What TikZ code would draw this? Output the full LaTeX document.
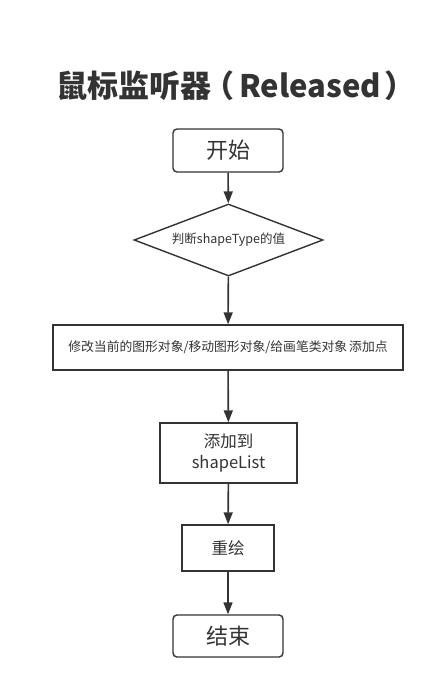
\documentclass[tikz,border=0pt]{standalone}
\usepackage{fontspec}
\setmainfont{Noto Sans CJK SC}
\usetikzlibrary{shapes.geometric,arrows.meta}
\definecolor{ink}{HTML}{333333}
\tikzset{
  box/.style={draw=ink, line width=1.4pt, rectangle, inner sep=0pt, text=ink, align=center},
  rbox/.style={box, rounded corners=4pt},
  dia/.style={draw=ink, line width=1.4pt, diamond, aspect=2.6, inner sep=0pt, text=ink},
  flow/.style={draw=ink, line width=1.6pt, -{Triangle[length=12pt,width=9pt]}}
}
\begin{document}
\begin{tikzpicture}[x=1pt,y=-1pt]
\useasboundingbox (0,0) rectangle (440,689);
\node[text=ink, anchor=west, inner sep=0pt, font=\fontsize{31}{34}\selectfont\bfseries] (title) at (56,86) {鼠标监听器\kern-8pt（\kern5pt Released\kern3pt ）};
\node[rbox, minimum width=110pt, minimum height=43pt, font=\fontsize{22}{24}\selectfont] (start) at (228,150.5) {开始};
\node[dia, minimum width=189pt, minimum height=72pt, font=\fontsize{12.5}{14}\selectfont] (judge) at (228.5,240) {判断shapeType的值};
\node[box, minimum width=350pt, minimum height=45pt, font=\fontsize{12.8}{14}\selectfont] (modify) at (228,347.5) {修改当前的图形对象/移动图形对象/给画笔类对象\kern2pt 添加点};
\node[box, minimum width=137pt, minimum height=60pt, font=\fontsize{16.5}{21}\selectfont] (add) at (228.5,453) {添加到\\shapeList};
\node[box, minimum width=92pt, minimum height=46pt, font=\fontsize{16.5}{20}\selectfont] (redraw) at (228,548) {重绘};
\node[rbox, minimum width=110pt, minimum height=42pt, font=\fontsize{22}{24}\selectfont] (stop) at (228,636) {结束};
\draw[flow] (start) -- (judge);
\draw[flow] (judge) -- (modify);
\draw[flow] (modify) -- (add);
\draw[flow] (add) -- (redraw);
\draw[flow] (redraw) -- (stop);
\end{tikzpicture}
\end{document}
